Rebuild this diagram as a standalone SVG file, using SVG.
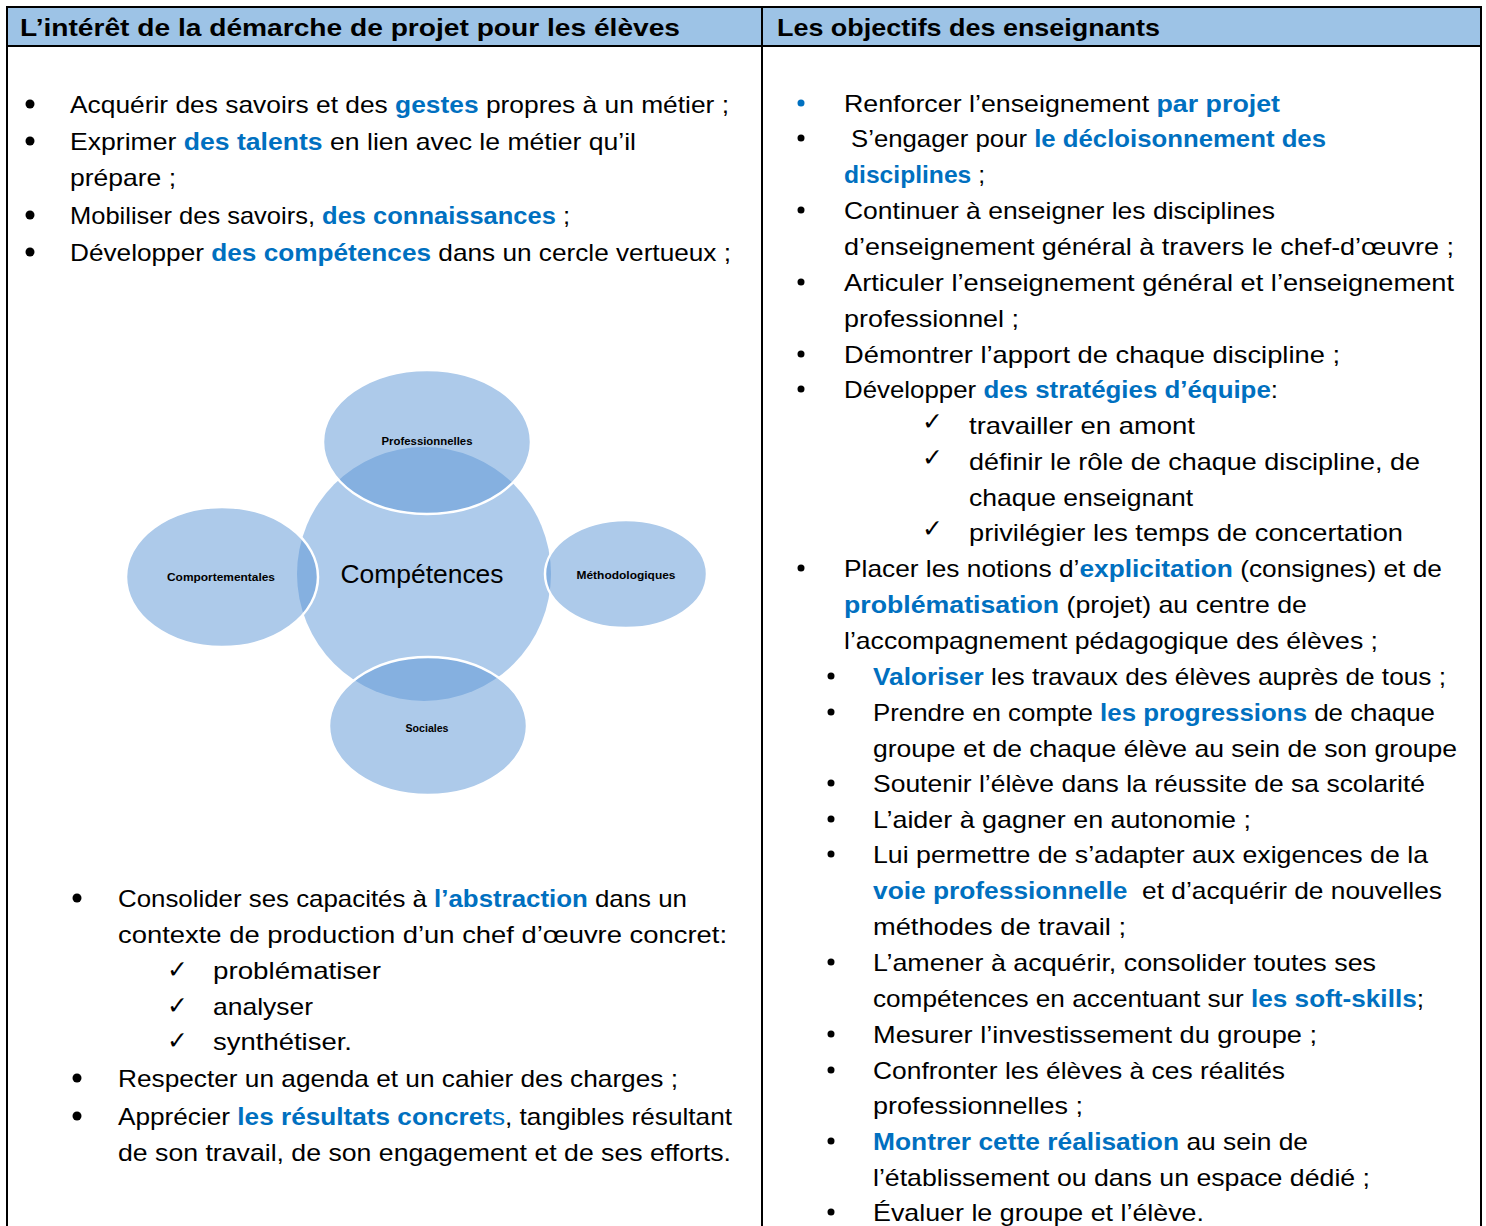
<svg xmlns="http://www.w3.org/2000/svg" width="1486" height="1226" viewBox="0 0 1486 1226">
<style>
.t{font-family:"Liberation Sans",Arial,sans-serif;font-size:24px;fill:#000}
.hd{font-family:"Liberation Sans",Arial,sans-serif;font-size:24px;font-weight:bold;fill:#000}
.b{font-weight:bold;fill:#0070c0}
.bl{fill:#0070c0}
.ck{font-family:"DejaVu Sans",sans-serif;font-size:25px;fill:#000}
.dot{fill:#000}
.lbl{font-family:"Liberation Sans",Arial,sans-serif;font-size:11px;font-weight:bold;fill:#000}
.sat{fill:#5b96d6;fill-opacity:0.5;stroke:#fff;stroke-width:2.5}
</style>
<rect width="1486" height="1226" fill="#fff"/>
<g id="table">
<rect x="7" y="7" width="1474" height="39" fill="#9dc3e6"/>
<rect x="7" y="7" width="1474" height="1240" fill="none" stroke="#000" stroke-width="2"/>
<line x1="7" y1="46" x2="1481" y2="46" stroke="#000" stroke-width="2"/>
<line x1="762" y1="7" x2="762" y2="1230" stroke="#000" stroke-width="2"/>
<text class="hd" x="20" y="36" textLength="660" lengthAdjust="spacingAndGlyphs">L’intérêt de la démarche de projet pour les élèves</text>
<text class="hd" x="777" y="36" textLength="383" lengthAdjust="spacingAndGlyphs">Les objectifs des enseignants</text>
</g>
<g id="left-column">
<circle class="dot" cx="30" cy="104" r="4.5"/>
<circle class="dot" cx="30" cy="141" r="4.5"/>
<circle class="dot" cx="30" cy="215" r="4.5"/>
<circle class="dot" cx="30" cy="252" r="4.5"/>
<text class="t" x="70" y="113" textLength="659" lengthAdjust="spacingAndGlyphs">Acquérir des savoirs et des <tspan class="b">gestes</tspan> propres à un métier ;</text>
<text class="t" x="70" y="150" textLength="566" lengthAdjust="spacingAndGlyphs">Exprimer <tspan class="b">des talents</tspan> en lien avec le métier qu’il</text>
<text class="t" x="70" y="186" textLength="106" lengthAdjust="spacingAndGlyphs">prépare ;</text>
<text class="t" x="70" y="224" textLength="500" lengthAdjust="spacingAndGlyphs">Mobiliser des savoirs, <tspan class="b">des connaissances</tspan> ;</text>
<text class="t" x="70" y="261" textLength="661" lengthAdjust="spacingAndGlyphs">Développer <tspan class="b">des compétences</tspan> dans un cercle vertueux ;</text>

<circle class="dot" cx="77" cy="898" r="4.5"/>
<circle class="dot" cx="77" cy="1078" r="4.5"/>
<circle class="dot" cx="77" cy="1116" r="4.5"/>
<text class="t" x="118" y="907" textLength="569" lengthAdjust="spacingAndGlyphs">Consolider ses capacités à <tspan class="b">l’abstraction</tspan> dans un</text>
<text class="t" x="118" y="943" textLength="609" lengthAdjust="spacingAndGlyphs">contexte de production d’un chef d’œuvre concret:</text>
<text class="ck" x="167" y="978">✓</text>
<text class="ck" x="167" y="1014">✓</text>
<text class="ck" x="167" y="1049">✓</text>
<text class="t" x="213" y="979" textLength="168" lengthAdjust="spacingAndGlyphs">problématiser</text>
<text class="t" x="213" y="1015" textLength="100" lengthAdjust="spacingAndGlyphs">analyser</text>
<text class="t" x="213" y="1050" textLength="139" lengthAdjust="spacingAndGlyphs">synthétiser.</text>
<text class="t" x="118" y="1087" textLength="560" lengthAdjust="spacingAndGlyphs">Respecter un agenda et un cahier des charges ;</text>
<text class="t" x="118" y="1125" textLength="614" lengthAdjust="spacingAndGlyphs">Apprécier <tspan class="b">les résultats concret</tspan><tspan class="bl">s</tspan>, tangibles résultant</text>
<text class="t" x="118" y="1161" textLength="613" lengthAdjust="spacingAndGlyphs">de son travail, de son engagement et de ses efforts.</text>
</g>
<g id="diagram">
<g id="node-competences">
<circle cx="424" cy="574" r="127" fill="#aecbeb"/>
<text x="422" y="583" text-anchor="middle" font-family="Liberation Sans, Arial, sans-serif" font-size="26" textLength="163" lengthAdjust="spacingAndGlyphs" fill="#000">Compétences</text>
</g>
<g id="node-professionnelles">
<ellipse class="sat" cx="427" cy="442" rx="104" ry="72"/>
<text class="lbl" x="427" y="445" text-anchor="middle" textLength="91" lengthAdjust="spacingAndGlyphs">Professionnelles</text>
</g>
<g id="node-comportementales">
<ellipse class="sat" cx="222" cy="577" rx="96" ry="70"/>
<text class="lbl" x="221" y="581" text-anchor="middle" textLength="108" lengthAdjust="spacingAndGlyphs">Comportementales</text>
</g>
<g id="node-methodologiques">
<ellipse class="sat" cx="626" cy="574" rx="81" ry="54"/>
<text class="lbl" x="626" y="579" text-anchor="middle" textLength="99" lengthAdjust="spacingAndGlyphs">Méthodologiques</text>
</g>
<g id="node-sociales">
<ellipse class="sat" cx="428" cy="726" rx="99" ry="69"/>
<text class="lbl" x="427" y="732" text-anchor="middle" textLength="43" lengthAdjust="spacingAndGlyphs">Sociales</text>
</g>
</g>
<g id="connectors"/>
<g id="right-column">
<circle cx="801" cy="103" r="3.5" fill="#0070c0"/>
<circle class="dot" cx="801" cy="138" r="3.5"/>
<circle class="dot" cx="801" cy="210" r="3.5"/>
<circle class="dot" cx="801" cy="282" r="3.5"/>
<circle class="dot" cx="801" cy="354" r="3.5"/>
<circle class="dot" cx="801" cy="389" r="3.5"/>
<circle class="dot" cx="801" cy="568" r="3.5"/>
<text class="t" x="844" y="112" textLength="436" lengthAdjust="spacingAndGlyphs">Renforcer l’enseignement <tspan class="b">par projet</tspan></text>
<text class="t" x="851" y="147" textLength="475" lengthAdjust="spacingAndGlyphs">S’engager pour <tspan class="b">le décloisonnement des</tspan></text>
<text class="t" x="844" y="183" textLength="141" lengthAdjust="spacingAndGlyphs"><tspan class="b">disciplines</tspan> ;</text>
<text class="t" x="844" y="219" textLength="431" lengthAdjust="spacingAndGlyphs">Continuer à enseigner les disciplines</text>
<text class="t" x="844" y="255" textLength="610" lengthAdjust="spacingAndGlyphs">d’enseignement général à travers le chef-d’œuvre ;</text>
<text class="t" x="844" y="291" textLength="610" lengthAdjust="spacingAndGlyphs">Articuler l’enseignement général et l’enseignement</text>
<text class="t" x="844" y="327" textLength="175" lengthAdjust="spacingAndGlyphs">professionnel ;</text>
<text class="t" x="844" y="363" textLength="496" lengthAdjust="spacingAndGlyphs">Démontrer l’apport de chaque discipline ;</text>
<text class="t" x="844" y="398" textLength="434" lengthAdjust="spacingAndGlyphs">Développer <tspan class="b">des stratégies d’équipe</tspan>:</text>
<text class="ck" x="922" y="430">✓</text>
<text class="ck" x="922" y="466">✓</text>
<text class="ck" x="922" y="537">✓</text>
<text class="t" x="969" y="434" textLength="226" lengthAdjust="spacingAndGlyphs">travailler en amont</text>
<text class="t" x="969" y="470" textLength="451" lengthAdjust="spacingAndGlyphs">définir le rôle de chaque discipline, de</text>
<text class="t" x="969" y="506" textLength="224" lengthAdjust="spacingAndGlyphs">chaque enseignant</text>
<text class="t" x="969" y="541" textLength="434" lengthAdjust="spacingAndGlyphs">privilégier les temps de concertation</text>
<text class="t" x="844" y="577" textLength="598" lengthAdjust="spacingAndGlyphs">Placer les notions d’<tspan class="b">explicitation</tspan> (consignes) et de</text>
<text class="t" x="844" y="613" textLength="463" lengthAdjust="spacingAndGlyphs"><tspan class="b">problématisation</tspan> (projet) au centre de</text>
<text class="t" x="844" y="649" textLength="534" lengthAdjust="spacingAndGlyphs">l’accompagnement pédagogique des élèves ;</text>

<circle class="dot" cx="831" cy="676" r="3.5"/>
<circle class="dot" cx="831" cy="712" r="3.5"/>
<circle class="dot" cx="831" cy="783" r="3.5"/>
<circle class="dot" cx="831" cy="819" r="3.5"/>
<circle class="dot" cx="831" cy="854" r="3.5"/>
<circle class="dot" cx="831" cy="962" r="3.5"/>
<circle class="dot" cx="831" cy="1034" r="3.5"/>
<circle class="dot" cx="831" cy="1070" r="3.5"/>
<circle class="dot" cx="831" cy="1141" r="3.5"/>
<circle class="dot" cx="831" cy="1212" r="3.5"/>
<text class="t" x="873" y="685" textLength="573" lengthAdjust="spacingAndGlyphs"><tspan class="b">Valoriser</tspan> les travaux des élèves auprès de tous ;</text>
<text class="t" x="873" y="721" textLength="562" lengthAdjust="spacingAndGlyphs">Prendre en compte <tspan class="b">les progressions</tspan> de chaque</text>
<text class="t" x="873" y="757" textLength="584" lengthAdjust="spacingAndGlyphs">groupe et de chaque élève au sein de son groupe</text>
<text class="t" x="873" y="792" textLength="552" lengthAdjust="spacingAndGlyphs">Soutenir l’élève dans la réussite de sa scolarité</text>
<text class="t" x="873" y="828" textLength="378" lengthAdjust="spacingAndGlyphs">L’aider à gagner en autonomie ;</text>
<text class="t" x="873" y="863" textLength="555" lengthAdjust="spacingAndGlyphs">Lui permettre de s’adapter aux exigences de la</text>
<text class="t" x="873" y="899" textLength="569" lengthAdjust="spacingAndGlyphs"><tspan class="b">voie professionnelle</tspan>&#160; et d’acquérir de nouvelles</text>
<text class="t" x="873" y="935" textLength="253" lengthAdjust="spacingAndGlyphs">méthodes de travail ;</text>
<text class="t" x="873" y="971" textLength="503" lengthAdjust="spacingAndGlyphs">L’amener à acquérir, consolider toutes ses</text>
<text class="t" x="873" y="1007" textLength="551" lengthAdjust="spacingAndGlyphs">compétences en accentuant sur <tspan class="b">les soft-skills</tspan>;</text>
<text class="t" x="873" y="1043" textLength="444" lengthAdjust="spacingAndGlyphs">Mesurer l’investissement du groupe ;</text>
<text class="t" x="873" y="1079" textLength="412" lengthAdjust="spacingAndGlyphs">Confronter les élèves à ces réalités</text>
<text class="t" x="873" y="1114" textLength="210" lengthAdjust="spacingAndGlyphs">professionnelles ;</text>
<text class="t" x="873" y="1150" textLength="435" lengthAdjust="spacingAndGlyphs"><tspan class="b">Montrer cette réalisation</tspan> au sein de</text>
<text class="t" x="873" y="1186" textLength="497" lengthAdjust="spacingAndGlyphs">l’établissement ou dans un espace dédié ;</text>
<text class="t" x="873" y="1221" textLength="331" lengthAdjust="spacingAndGlyphs">Évaluer le groupe et l’élève.</text>
</g>
</svg>
